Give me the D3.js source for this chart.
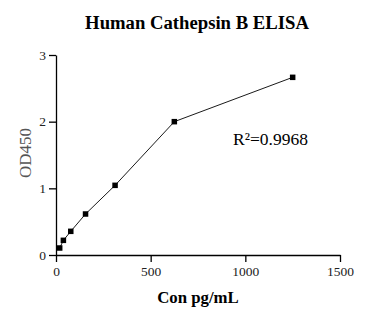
<!DOCTYPE html>
<html>
<head>
<meta charset="utf-8">
<script src="https://cdn.jsdelivr.net/npm/d3@7"></script>
<style>
  body { margin: 0; background: #fff; }
  text { font-family: "Liberation Serif", "Times New Roman", serif; }
</style>
</head>
<body>
<svg width="382" height="320"></svg>
<script>
let width = 382,
    height = 320;

let concentrations = [19.5, 39, 78, 156, 312, 625, 1250];
let odValues = [0.105, 0.22, 0.355, 0.615, 1.045, 2.0, 2.665];
let xTicks = [0, 500, 1000, 1500];
let yTicks = [0, 1, 2, 3];

let margin = {left: 56, right: 42, top: 55, bottom: 65};

let svg = d3.select("svg");

let x = d3.scaleLinear()
    .domain([0, 1500])
    .range([margin.left, width - margin.right]);

let y = d3.scaleLinear()
    .domain([0, 3])
    .range([height - margin.bottom, margin.top]);

let xAxis = svg.append("g")
    .attr("transform", `translate(0,${y(0)})`)
    .call(d3.axisBottom(x).tickValues(xTicks).tickFormat(d3.format("d"))
        .tickSize(7).tickSizeOuter(0).tickPadding(4));

let yAxis = svg.append("g")
    .attr("transform", `translate(${x(0)},0)`)
    .call(d3.axisLeft(y).tickValues(yTicks).tickFormat(d3.format("d"))
        .tickSize(7).tickSizeOuter(0).tickPadding(3));

[xAxis, yAxis].forEach(g => {
    g.attr("font-family", null);
    g.select(".domain").attr("stroke", "#000").attr("stroke-width", 1.3);
    g.selectAll(".tick line").attr("stroke", "#000").attr("stroke-width", 1.3);
    g.selectAll(".tick text")
        .attr("fill", "#222")
        .style("font-size", "13.5px");
});

let points = concentrations.map((c, i) => ({x: c, y: odValues[i]}));

let line = d3.line()
    .x(d => x(d.x))
    .y(d => y(d.y));

svg.append("path")
    .datum(points)
    .attr("fill", "none")
    .attr("stroke", "#000")
    .attr("stroke-width", 0.9)
    .attr("d", line);

let markerSize = 5.5;
svg.append("g")
    .selectAll("rect")
    .data(points)
    .enter().append("rect")
    .attr("x", d => x(d.x) - markerSize / 2)
    .attr("y", d => y(d.y) - markerSize / 2)
    .attr("width", markerSize)
    .attr("height", markerSize)
    .attr("fill", "#000");

svg.append("text")
    .attr("x", 197)
    .attr("y", 29)
    .attr("text-anchor", "middle")
    .style("font-size", "18.7px")
    .style("font-weight", "bold")
    .text("Human Cathepsin B ELISA");

svg.append("text")
    .attr("x", 198)
    .attr("y", 303)
    .attr("text-anchor", "middle")
    .style("font-size", "16.8px")
    .style("font-weight", "bold")
    .text("Con pg/mL");

svg.append("text")
    .attr("transform", `translate(31,${y(1.53)}) rotate(-90)`)
    .attr("text-anchor", "middle")
    .attr("fill", "#555")
    .style("font-size", "17px")
    .text("OD450");

svg.append("text")
    .attr("x", 233)
    .attr("y", 145)
    .style("font-size", "17.5px")
    .text("R²=0.9968");
</script>
</body>
</html>
